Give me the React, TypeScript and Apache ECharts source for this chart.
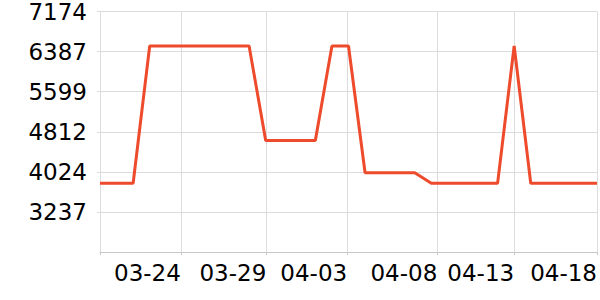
import React, { useEffect, useRef } from "react";
import * as echarts from "echarts";

// one value per day, 03-19 .. 04-18
const dates: string[] = [
  "03-19", "03-20", "03-21", "03-22", "03-23", "03-24", "03-25", "03-26",
  "03-27", "03-28", "03-29", "03-30", "03-31", "04-01", "04-02", "04-03",
  "04-04", "04-05", "04-06", "04-07", "04-08", "04-09", "04-10", "04-11",
  "04-12", "04-13", "04-14", "04-15", "04-16", "04-17", "04-18",
];

const values: number[] = [
  3800, 3800, 3800, 6496, 6496, 6496, 6496, 6496,
  6496, 6496, 4642, 4642, 4642, 4642, 6496, 6496,
  4005, 4005, 4005, 4005, 3800, 3800, 3800, 3800,
  3800, 6496, 3800, 3800, 3800, 3800, 3800,
];

// x tick positions (in days from 03-19) and their labels, as drawn in the reference
const xTickDays: number[] = [0, 4.88, 10.04, 14.92, 20.36, 25, 30];
const xTickLabels: string[] = ["", "03-24", "03-29", "04-03", "04-08", "04-13", "04-18"];

const yMin = 2449;
const yMax = 7174;
const yStep = 787.5;

export default function App() {
  const ref = useRef<HTMLDivElement>(null);
  useEffect(() => {
    if (!ref.current) return;
    const chart = echarts.init(ref.current, null, { renderer: "svg" });
    const labelFor = (v: number) => {
      let best = 0;
      xTickDays.forEach((d, i) => {
        if (Math.abs(d - v) < Math.abs(xTickDays[best] - v)) best = i;
      });
      return xTickLabels[best];
    };
    chart.setOption({
      animation: false,
      grid: { left: 100, right: 0, top: 10, bottom: 48 },
      textStyle: { fontFamily: "DejaVu Sans" },
      xAxis: {
        type: "value",
        min: 0,
        max: dates.length - 1,
        axisLine: { show: true, lineStyle: { color: "#c8c8c8", width: 1 } },
        axisTick: { show: true, length: 3, customValues: xTickDays, lineStyle: { color: "#c8c8c8" } },
        splitLine: { show: true, lineStyle: { color: "#dcdcdc", width: 1 } },
        axisLabel: {
          customValues: xTickDays.slice(1),
          align: "right",
          margin: 9,
          fontSize: 23,
          color: "#000",
          fontFamily: "DejaVu Sans",
          formatter: (v: number) => labelFor(v),
        },
      },
      yAxis: {
        type: "value",
        min: yMin,
        max: yMax,
        interval: yStep,
        axisLine: { show: true, lineStyle: { color: "#dcdcdc" } },
        axisTick: { show: true, length: 3, lineStyle: { color: "#dcdcdc" } },
        splitLine: { show: true, lineStyle: { color: "#dcdcdc", width: 1 } },
        axisLabel: {
          showMinLabel: false,
          margin: 13,
          fontSize: 23,
          color: "#000",
          fontFamily: "DejaVu Sans",
          formatter: (v: number) => String(Math.round(v)),
        },
      },
      series: [
        {
          type: "line",
          data: values.map((v, i) => [i, v]),
          showSymbol: false,
          symbol: "none",
          lineStyle: { color: "#ee4a2c", width: 3 },
          itemStyle: { color: "#ee4a2c" },
        },
      ],
    });
    return () => chart.dispose();
  }, []);
  return (
    <div
      ref={ref}
      style={{ position: "absolute", left: 0, top: 0, width: 600, height: 300 }}
    />
  );
}
